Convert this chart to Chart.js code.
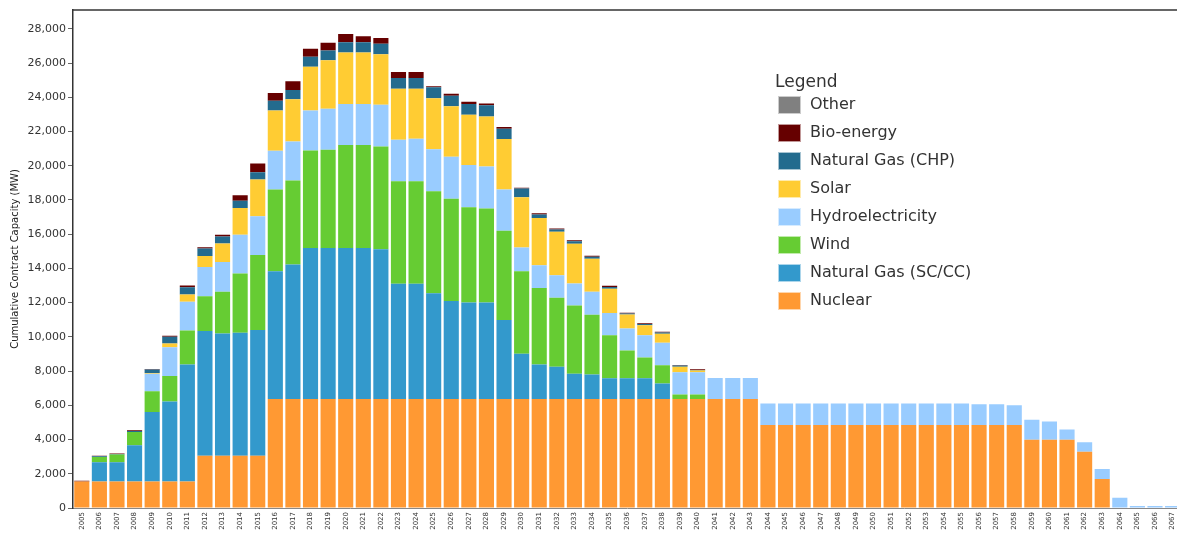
<!DOCTYPE html>
<html>
<head>
<meta charset="utf-8">
<script src="https://cdn.jsdelivr.net/npm/chart.js@4/dist/chart.umd.min.js"></script>
<style>
html,body{margin:0;padding:0;background:#fff;overflow:hidden;width:1177px;height:534px;}
#wrap{position:relative;width:1185px;height:534px;}
canvas{display:block;}
</style>
</head>
<body>
<div id="wrap"><canvas id="c" width="1185" height="534"></canvas></div>
<script>
const years = [];
for (let y = 2005; y <= 2067; y++) years.push(String(y));

const nuclear = [1550,1550,1550,1550,1550,1550,1550, 3060,3060,3060,3060,
  6370,6370,6370,6370,6370,6370,6370,6370,6370,6370,6370,6370,6370,6370,6370,6370,6370,6370,6370,6370,6370,6370,6370,6370,6370,6370,6370,6370,
  4850,4850,4850,4850,4850,4850,4850,4850,4850,4850,4850,4850,4850,4850,4850,
  3990,3990,3990,3290,1700,0,0,0,0];
const gasSC = [0,1120,1120,2110,4060,4680,6830,7280,7130,7180,7340,7470,7860,8830,8830,8830,8830,8750,6730,6730,6180,5730,5640,5640,4620,2640,2010,1880,1480,1430,1210,1210,1210,900,
  0,0,0,0,0,0,0,0,0,0,0,0,0,0,0,0,0,0,0,0,0,0,0,0,0,0,0,0,0];
const wind = [0,310,450,780,1210,1490,1990,2040,2450,3470,4380,4770,4910,5690,5740,6010,6010,6010,6000,6000,5960,5970,5570,5490,5210,4830,4470,4030,3980,3490,2510,1620,1210,1070,260,260,
  0,0,0,0,0,0,0,0,0,0,0,0,0,0,0,0,0,0,0,0,0,0,0,0,0,0,0];
const hydro = [0,0,0,0,1020,1670,1680,1700,1730,2260,2270,2270,2280,2340,2390,2390,2390,2440,2420,2480,2460,2460,2460,2460,2410,1380,1340,1320,1290,1340,1310,1290,1300,1310,1300,1300,
  1230,1230,1230,
  1260,1260,1260,1260,1260,1260,1260,1260,1260,1260,1260,1260,
  1210,1210,1150,1170,1070,590,550,580,600,110,110,110];
const solar = [0,0,0,0,50,220,420,640,1080,1560,2140,2350,2460,2560,2830,3010,3010,2940,2980,2920,2980,2940,2940,2920,2950,2940,2750,2540,2320,1930,1410,810,590,530,330,100,
  0,0,0,0,0,0,0,0,0,0,0,0,0,0,0,0,0,0,0,0,0,0,0,0,0,0,0];
const gasCHP = [0,40,30,60,200,390,430,440,410,430,430,570,540,580,570,600,600,620,620,620,630,620,620,650,600,510,210,130,150,120,110,70,70,80,60,40,
  0,0,0,0,0,0,0,0,0,0,0,0,0,0,0,0,0,0,0,0,0,0,0,0,0,0,0];
const bio = [40,30,30,40,30,60,100,70,110,310,510,450,510,470,460,490,350,330,350,350,70,120,140,110,100,40,70,60,60,60,60,40,50,40,40,40,
  0,0,0,0,0,0,0,0,0,0,0,0,0,0,0,0,0,0,0,0,0,0,0,0,0,0,0];
const other = years.map(() => 0);

const seriesNames = ["Nuclear","Natural Gas (SC/CC)","Wind","Hydroelectricity","Solar","Natural Gas (CHP)","Bio-energy","Other"];
const seriesColors = ["#FF9933","#3399CC","#66CC33","#99CCFF","#FFCC33","#236B8E","#660000","#808080"];
const seriesData = [nuclear, gasSC, wind, hydro, solar, gasCHP, bio, other];
const yTicks = [0,2000,4000,6000,8000,10000,12000,14000,16000,18000,20000,22000,24000,26000,28000];

const datasets = seriesNames.map((n, i) => ({
  label: n,
  data: seriesData[i],
  backgroundColor: seriesColors[i],
  borderWidth: 0,
  barPercentage: 0.86,
  categoryPercentage: 1.0
}));

const framePlugin = {
  id: 'frame',
  afterDraw(chart) {
    const ctx = chart.ctx, a = chart.chartArea;
    ctx.save();
    ctx.strokeStyle = '#333';
    ctx.lineWidth = 1.5;
    ctx.beginPath();
    ctx.moveTo(a.left, a.top);
    ctx.lineTo(chart.width, a.top);
    ctx.stroke();
    ctx.restore();
  }
};

const legendPlugin = {
  id: 'customLegend',
  afterDraw(chart) {
    const ctx = chart.ctx;
    ctx.save();
    ctx.fillStyle = '#333';
    ctx.textBaseline = 'middle';
    ctx.textAlign = 'left';
    ctx.font = '17px "DejaVu Sans"';
    ctx.fillText('Legend', 775, 83);
    ctx.font = '16px "DejaVu Sans"';
    const order = chart.data.datasets.map((d, i) => i).reverse();
    order.forEach((di, k) => {
      const ds = chart.data.datasets[di];
      const cy = 105 + k * 28.0;
      ctx.fillStyle = ds.backgroundColor;
      ctx.fillRect(778, cy - 9, 23, 18);
      ctx.strokeStyle = 'rgba(255,255,255,0.6)';
      ctx.lineWidth = 1;
      ctx.strokeRect(778.5, cy - 8.5, 22, 17);
      ctx.fillStyle = '#333';
      ctx.fillText(ds.label, 810, cy);
    });
    ctx.restore();
  }
};

new Chart(document.getElementById('c'), {
  type: 'bar',
  data: { labels: years, datasets: datasets },
  options: {
    responsive: false,
    animation: false,
    layout: { padding: { top: 10, right: 1, left: 0, bottom: 0 } },
    plugins: { legend: { display: false }, tooltip: { enabled: false } },
    scales: {
      x: {
        stacked: true,
        offset: true,
        grid: { display: false, drawTicks: false, tickLength: 0 },
        border: { color: '#888', width: 1 },
        ticks: {
          autoSkip: false, minRotation: 90, maxRotation: 90, padding: 4,
          font: { family: 'DejaVu Sans', size: 7 }, color: '#333'
        },
        afterFit(scale) { scale.height = 26; }
      },
      y: {
        stacked: true,
        min: 0,
        max: 29100,
        afterBuildTicks(scale) { scale.ticks = yTicks.map(v => ({ value: v })); },
        grid: { drawOnChartArea: false, drawTicks: true, tickLength: 5, color: '#666' },
        border: { color: '#333', width: 1.5 },
        ticks: {
          padding: 2,
          font: { family: 'DejaVu Sans', size: 11 }, color: '#333',
          callback: v => v.toLocaleString('en-US')
        },
        title: {
          display: true, text: 'Cumulative Contract Capacity (MW)',
          font: { family: 'DejaVu Sans', size: 10 }, color: '#222',
          padding: { top: 9, bottom: 0 }
        },
        afterFit(scale) { scale.width = 73; }
      }
    }
  },
  plugins: [framePlugin, legendPlugin]
});
</script>
</body>
</html>
